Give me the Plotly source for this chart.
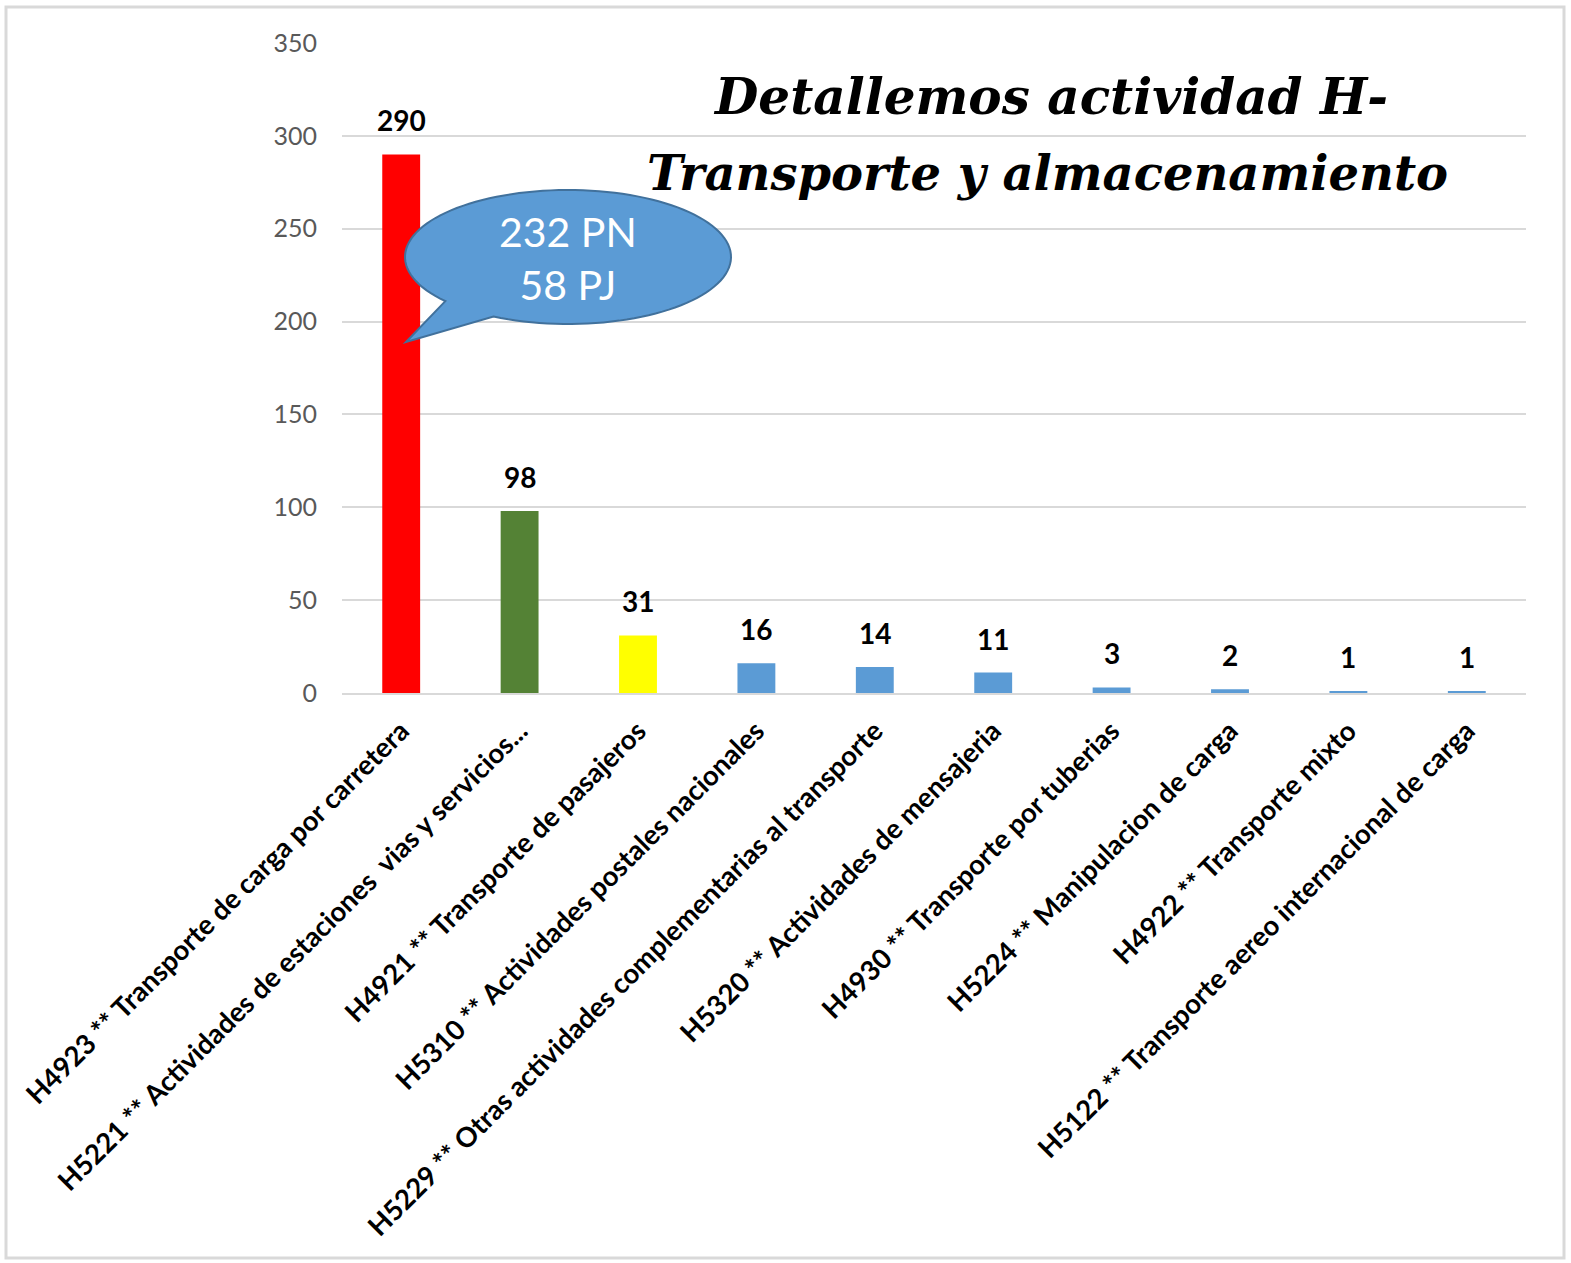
import numpy as np
import plotly.graph_objects as go

categories = [
    "H4923 ** Transporte de carga por carretera",
    "H5221 ** Actividades de estaciones  vias y servicios...",
    "H4921 ** Transporte de pasajeros",
    "H5310 ** Actividades postales nacionales",
    "H5229 ** Otras actividades complementarias al transporte",
    "H5320 ** Actividades de mensajeria",
    "H4930 ** Transporte por tuberias",
    "H5224 ** Manipulacion de carga",
    "H4922 ** Transporte mixto",
    "H5122 ** Transporte aereo internacional de carga",
]
values = [290, 98, 31, 16, 14, 11, 3, 2, 1, 1]
bar_colors = ["#FF0000", "#548235", "#FFFF00"] + ["#5B9BD5"] * 7
y_ticks = [0, 50, 100, 150, 200, 250, 300, 350]
title_lines = ["Detallemos actividad H-", "Transporte y almacenamiento"]
callout_lines = ["232 PN", "58 PJ"]

W, H = 1571, 1263
L, R, T, B = 342, 1526, 43, 693  # plot area in page pixels

def px(x):
    return (x - L) / (R - L)

def py(y):
    return (B - y) / (B - T)

fig = go.Figure()
fig.add_trace(go.Bar(
    x=categories, y=values,
    marker=dict(color=bar_colors, line=dict(width=0)),
    cliponaxis=False, width=0.32, hoverinfo="skip",
))

annotations = []
for c, v in zip(categories, values):
    annotations.append(dict(
        x=c, y=v, xref="x", yref="y", text=str(v), showarrow=False,
        xanchor="center", yanchor="bottom", yshift=15,
        font=dict(family="Lato", size=28, color="#000000", weight="bold"),
    ))

# callout bubble
cx, cy, rx, ry = 568, 257, 163, 67
tA, tB = np.deg2rad(138.8), np.deg2rad(117.2)
ts = np.linspace(tB, tA - 2 * np.pi, 120)
pts = [(cx + rx * np.cos(t), cy + ry * np.sin(t)) for t in ts]
pts.append((406, 342))
path = "M " + " L ".join(f"{px(x):.5f},{py(y):.5f}" for x, y in pts) + " Z"

shapes = [
    dict(type="path", xref="paper", yref="paper", path=path,
         fillcolor="#5B9BD5", line=dict(color="#41719C", width=2), layer="above"),
    dict(type="rect", xref="paper", yref="paper",
         x0=px(6), x1=px(1564), y0=py(7), y1=py(1258),
         line=dict(color="#D9D9D9", width=3), layer="below"),
]

annotations += [
    dict(xref="paper", yref="paper", x=px(568), y=py(258),
         text="<br>".join(callout_lines), showarrow=False,
         font=dict(family="Lato", size=41, color="#FFFFFF"),
         xanchor="center", yanchor="middle", align="center"),
    dict(xref="paper", yref="paper", x=px(1050), y=py(97),
         text=title_lines[0], showarrow=False,
         font=dict(family="DejaVu Serif", size=50, color="#000000", weight="bold", style="italic"),
         xanchor="center", yanchor="middle"),
    dict(xref="paper", yref="paper", x=px(1047), y=py(173),
         text=title_lines[1], showarrow=False,
         font=dict(family="DejaVu Serif", size=48, color="#000000", weight="bold", style="italic"),
         xanchor="center", yanchor="middle"),
]

fig.update_layout(
    width=W, height=H,
    margin=dict(l=L, r=W - R, t=T, b=H - B, autoexpand=False),
    paper_bgcolor="white", plot_bgcolor="white",
    showlegend=False, hovermode=False,
    shapes=shapes, annotations=annotations,
    xaxis=dict(
        tickangle=-45, tickfont=dict(family="Lato", size=27.5, color="#000000", weight="bold"),
        showgrid=False, showline=True, linecolor="#D9D9D9", linewidth=2,
        ticks="", automargin=False, ticklabelstandoff=9,
    ),
    yaxis=dict(
        range=[0, 350], tickvals=y_ticks,
        tickfont=dict(family="Lato", size=25, color="#595959"),
        showgrid=True, gridcolor="#D9D9D9", gridwidth=2,
        zeroline=False, showline=False, ticks="",
        ticklabelstandoff=24, automargin=False,
    ),
)

fig.write_html(
    "out.html",
    config={"displayModeBar": False},
    post_script="document.body.style.margin='0';document.body.style.overflow='hidden';",
)
